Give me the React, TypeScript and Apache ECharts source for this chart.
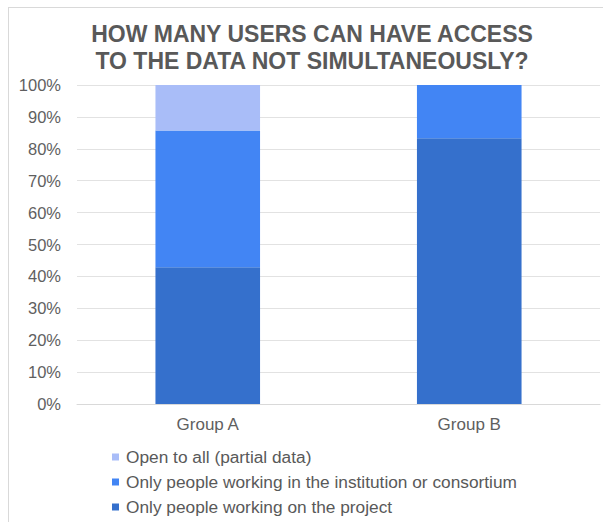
import React, { useEffect, useRef } from "react";
import * as echarts from "echarts";

const categories = ["Group A", "Group B"];
const seriesNames = [
  "Only people working on the project",
  "Only people working in the institution or consortium",
  "Open to all (partial data)",
];
const projectValues = [42.86, 83.33];
const institutionValues = [42.85, 16.67];
const openValues = [14.29, 0];
const colors = ["#3570cc", "#4285f4", "#a9bdf8"];
const titleText = "HOW MANY USERS CAN HAVE ACCESS\nTO THE DATA NOT SIMULTANEOUSLY?";

export default function App() {
  const ref = useRef<HTMLDivElement>(null);
  useEffect(() => {
    if (!ref.current) return;
    const chart = echarts.init(ref.current, null, { renderer: "svg" });
    const values = [projectValues, institutionValues, openValues];
    const font = "'Liberation Sans', Arial, sans-serif";
    chart.setOption({
      animation: false,
      textStyle: { fontFamily: font },
      title: {
        text: titleText,
        left: 312,
        top: 20,
        padding: 0,
        textAlign: "center",
        textStyle: {
          fontFamily: font,
          fontSize: 23,
          fontWeight: "bold",
          color: "#595959",
          lineHeight: 27,
        },
      },
      grid: { left: 77, right: 3, top: 85, bottom: 118, containLabel: false },
      xAxis: {
        type: "category",
        data: categories,
        axisLine: { show: true, lineStyle: { color: "#d9d9d9", width: 1 } },
        axisTick: { show: false },
        axisLabel: { color: "#5f5f5f", fontSize: 17, margin: 12, fontFamily: font },
      },
      yAxis: {
        type: "value",
        min: 0,
        max: 100,
        interval: 10,
        axisLine: { show: false },
        axisTick: { show: false },
        splitLine: { lineStyle: { color: "#e2e2e2", width: 1 } },
        axisLabel: {
          color: "#5f5f5f",
          fontSize: 16.5,
          margin: 16,
          fontFamily: font,
          formatter: "{value}%",
        },
      },
      legend: {
        orient: "vertical",
        left: 112,
        top: 447,
        height: 75,
        padding: 0,
        itemWidth: 7,
        itemHeight: 7,
        itemGap: 5,
        icon: "rect",
        data: [seriesNames[2], seriesNames[1], seriesNames[0]],
        textStyle: { fontSize: 17.3, color: "#595959", lineHeight: 20, fontFamily: font, padding: [0, 0, 0, 2] },
      },
      graphic: [
        { type: "line", shape: { x1: 8.5, y1: 7, x2: 8.5, y2: 522 }, style: { stroke: "#d9d9d9", lineWidth: 1 } },
        { type: "line", shape: { x1: 8, y1: 7.5, x2: 603, y2: 7.5 }, style: { stroke: "#d9d9d9", lineWidth: 1 } },
      ],
      series: seriesNames.map((name, i) => ({
        name,
        type: "bar",
        stack: "total",
        barWidth: "40%",
        data: values[i],
        itemStyle: { color: colors[i] },
      })),
    });
    return () => chart.dispose();
  }, []);
  return (
    <div
      ref={ref}
      style={{ position: "absolute", left: 0, top: 0, width: 603, height: 522, background: "#fff" }}
    />
  );
}
